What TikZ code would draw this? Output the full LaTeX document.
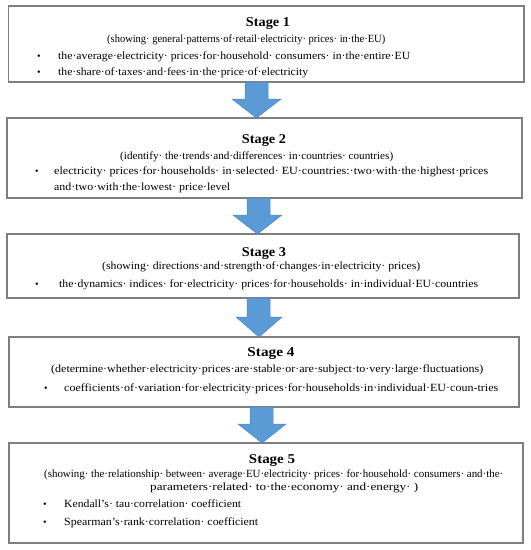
\documentclass[tikz,border=0pt]{standalone}
\usepackage{graphicx}
\usepackage{fontspec}
\setmainfont{Liberation Serif}
\definecolor{boxgray}{HTML}{7F7F7F}
\definecolor{arrowblue}{HTML}{5B9BD5}
\definecolor{arrowedge}{HTML}{4A88C8}
\newcommand{\fitw}[2]{\resizebox{#1pt}{\height}{#2}}
\begin{document}
\begin{tikzpicture}[x=1pt,y=-1pt,
  stagebox/.style={draw=boxgray,line width=1.1pt,fill=white},
  blockarrow/.style={fill=arrowblue,draw=arrowedge,line width=0.5pt},
  title/.style={font=\bfseries\fontsize{13.5}{15}\selectfont,inner sep=0pt,anchor=base},
  txt/.style={font=\fontsize{11}{13}\selectfont,inner sep=0pt,anchor=base west},
  bul/.style={font=\fontsize{10}{12}\selectfont,inner sep=0pt,anchor=base}]
\useasboundingbox (0,0) rectangle (531,550);
\fill[white] (0,0) rectangle (531,550);
% boxes
\draw[stagebox] (8.5,6) rectangle (524,82);
\draw[stagebox] (7,118) rectangle (522,198);
\draw[stagebox] (7,234) rectangle (519,298);
\draw[stagebox] (9,337) rectangle (519,407);
\draw[stagebox] (9,443) rectangle (523,543);
% arrows
\draw[blockarrow] (245,82) -- (245,99) -- (232,99) -- (256.5,118) -- (281,99) -- (268,99) -- (268,82) -- cycle;
\draw[blockarrow] (247,198) -- (247,215) -- (233,215) -- (257.5,234) -- (282,215) -- (270,215) -- (270,198) -- cycle;
\draw[blockarrow] (247,298) -- (247,317) -- (236,317) -- (259,337) -- (282,317) -- (270,317) -- (270,298) -- cycle;
\draw[blockarrow] (250,407) -- (250,424) -- (238,424) -- (262,443) -- (286,424) -- (273,424) -- (273,407) -- cycle;
% stage 1
\node[title] (t1) at (268,26) {\fitw{44}{Stage 1}};
\node[txt] (s1) at (107,42) {\fitw{278}{(showing· general·patterns·of·retail·electricity· prices· in·the·EU)}};
\node[bul] (p1a) at (39,59) {•};
\node[txt] (l1a) at (58,59) {\fitw{352}{the·average·electricity· prices·for·household· consumers· in·the·entire·EU}};
\node[bul] (p1b) at (39,75) {•};
\node[txt] (l1b) at (58,75) {\fitw{250}{the·share·of·taxes·and·fees·in·the·price·of·electricity}};
% stage 2
\node[title] (t2) at (264,143) {\fitw{44}{Stage 2}};
\node[txt] (s2) at (120,159) {\fitw{273}{(identify· the·trends·and·differences· in·countries· countries)}};
\node[bul] (p2a) at (37,174) {•};
\node[txt] (l2a) at (54,174) {\fitw{434}{electricity· prices·for·households· in·selected· EU·countries:·two·with·the·highest·prices}};
\node[txt] (l2b) at (54,190) {\fitw{176}{and·two·with·the·lowest· price·level}};
% stage 3
\node[title] (t3) at (264,256) {\fitw{44}{Stage 3}};
\node[txt] (s3) at (102,269) {\fitw{318}{(showing· directions·and·strength·of·changes·in·electricity· prices)}};
\node[bul] (p3a) at (37,287) {•};
\node[txt] (l3a) at (59,287) {\fitw{419}{the·dynamics· indices· for·electricity· prices·for·households· in·individual·EU·countries}};
% stage 4
\node[title] (t4) at (271,356) {\fitw{47}{Stage 4}};
\node[txt] (s4) at (51,372) {\fitw{432}{(determine·whether·electricity·prices·are·stable·or·are·subject·to·very·large·fluctuations)}};
\node[bul] (p4a) at (46,391) {•};
\node[txt] (l4a) at (64,391) {\fitw{434}{coefficients·of·variation·for·electricity·prices·for·households·in·individual·EU·coun-tries}};
% stage 5
\node[title] (t5) at (272,463) {\fitw{46}{Stage 5}};
\node[txt] (s5a) at (44,477) {\fitw{459}{(showing· the·relationship· between· average·EU·electricity· prices· for·household· consumers· and·the·}};
\node[txt] (s5b) at (150,490) {\fitw{268}{parameters·related· to·the·economy· and·energy· )}};
\node[bul] (p5a) at (45,507) {•};
\node[txt] (l5a) at (64,507) {\fitw{177}{Kendall’s· tau·correlation· coefficient}};
\node[bul] (p5b) at (45,525) {•};
\node[txt] (l5b) at (64,525) {\fitw{194}{Spearman’s·rank·correlation· coefficient}};
\end{tikzpicture}
\end{document}
